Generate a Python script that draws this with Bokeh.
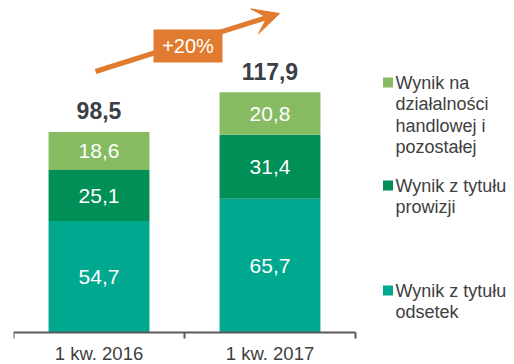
from bokeh.plotting import figure
from bokeh.models import (Range1d, FixedTicker, Arrow, VeeHead, BoxAnnotation,
                          Label, ColumnDataSource)
from bokeh.embed import file_html
from bokeh.resources import INLINE
from bokeh.core.properties import value

# --- data (mln zł) ---
categories = ["1 kw. 2016", "1 kw. 2017"]
odsetki = [54.7, 65.7]      # Wynik z tytułu odsetek
prowizje = [25.1, 31.4]     # Wynik z tytułu prowizji
handel = [18.6, 20.8]       # Wynik na działalności handlowej i pozostałej
totals = [98.5, 117.9]

series_keys = ["odsetki", "prowizje", "handel"]
series_labels = ["Wynik z tytułu\nodsetek",
                 "Wynik z tytułu\nprowizji",
                 "Wynik na\ndziałalności\nhandlowej i\npozostałej"]
colors = ["#00A88F", "#008F57", "#86BB62"]

FONT = "Liberation Sans"
TEXT_DARK = "#404040"
ORANGE = "#E07B30"

# layout constants
W, H = 514, 364
LEFT = 13            # frame left edge
AXIS_Y = 332         # canvas row of the category axis
CAT_W = 171          # pixels per category slot
Y_MAX = 163.0
PXU = AXIS_Y / Y_MAX


def fx(px):
    """canvas x pixel -> data x"""
    return (px - LEFT) / CAT_W


def fy(py):
    """canvas y pixel (from top) -> data y"""
    return (AXIS_Y - py) / PXU


def fmt(v):
    return f"{v:.1f}".replace(".", ",")


n = len(categories)
xs = [i + 0.5 for i in range(n)]
src = ColumnDataSource(dict(x=xs, odsetki=odsetki, prowizje=prowizje, handel=handel))

# frame covers the full canvas height; the axis sits at y = 0 inside it
p = figure(width=W, height=H, output_backend="svg", toolbar_location=None,
           x_range=Range1d(0, fx(W)), y_range=Range1d(fy(H), Y_MAX),
           y_axis_location=None, min_border_left=LEFT, min_border_right=0,
           min_border_top=0, min_border_bottom=0)
p.outline_line_color = None
p.grid.visible = False

p.vbar_stack(series_keys, x="x", width=0.59, color=colors, line_color=None, source=src)

# segment value labels
seg_x, seg_y, seg_t = [], [], []
for i, x in enumerate(xs):
    base = 0.0
    for vals in (odsetki, prowizje, handel):
        seg_x.append(x)
        seg_y.append(base + vals[i] / 2)
        seg_t.append(fmt(vals[i]))
        base += vals[i]
p.text(x=seg_x, y=seg_y, text=seg_t, text_color="white", text_align="center",
       text_baseline="middle", text_font=value(FONT), text_font_size="21px")

# totals above bars
p.text(x=xs, y=totals, text=[fmt(t) for t in totals], text_color="#3C4046",
       text_align="center", text_baseline="alphabetic", y_offset=-21,
       text_font=value(FONT), text_font_size="23px", text_font_style="bold")

# x axis at y = 0: line and ticks limited to the category slots,
# ticks on slot boundaries, names at slot centres
ax = p.xaxis[0]
ax.fixed_location = 0
ax.bounds = (0, n)
ax.ticker = FixedTicker(ticks=xs, minor_ticks=list(range(n + 1)))
ax.major_label_overrides = {x: c for x, c in zip(xs, categories)}
ax.major_tick_out = 0
ax.major_tick_in = 0
ax.minor_tick_out = 6
ax.minor_tick_in = 0
ax.minor_tick_line_color = "#595959"
ax.minor_tick_line_width = 2
ax.axis_line_color = "#595959"
ax.axis_line_width = 2
ax.major_label_standoff = 4
ax.major_label_text_font = FONT
ax.major_label_text_font_size = "18.5px"
ax.major_label_text_color = TEXT_DARK

# growth arrow with percentage badge
growth = round((totals[1] / totals[0] - 1) * 100)
p.add_layout(Arrow(x_start=fx(95), y_start=fy(71), x_end=fx(279), y_end=fy(13),
                   line_color=ORANGE, line_width=5,
                   end=VeeHead(size=26, fill_color=ORANGE, line_color=ORANGE)))
p.add_layout(BoxAnnotation(left=fx(153), right=fx(222), bottom=fy(62), top=fy(29),
                           fill_color=ORANGE, fill_alpha=1, line_color=None))
p.add_layout(Label(x=fx(187.5), y=fy(45.5), text=f"+{growth}%", text_color="white",
                   text_align="center", text_baseline="middle",
                   text_font=FONT, text_font_size="20px"))

# legend on the right (top entry = top segment)
legend_first_line = [290, 185, 82]
line_h = 21.6
for label, color, y0 in zip(series_labels, colors, legend_first_line):
    p.rect(x=[fx(387.5)], y=[fy(y0)], width=10, height=10, width_units="screen",
           height_units="screen", fill_color=color, line_color=None)
    lines = label.split("\n")
    p.text(x=[fx(395)] * len(lines), y=[fy(y0 + k * line_h) for k in range(len(lines))],
           text=lines, text_color=TEXT_DARK, text_baseline="middle",
           text_font=value(FONT), text_font_size="18px")

open("out.html", "w").write(file_html(p, INLINE))
